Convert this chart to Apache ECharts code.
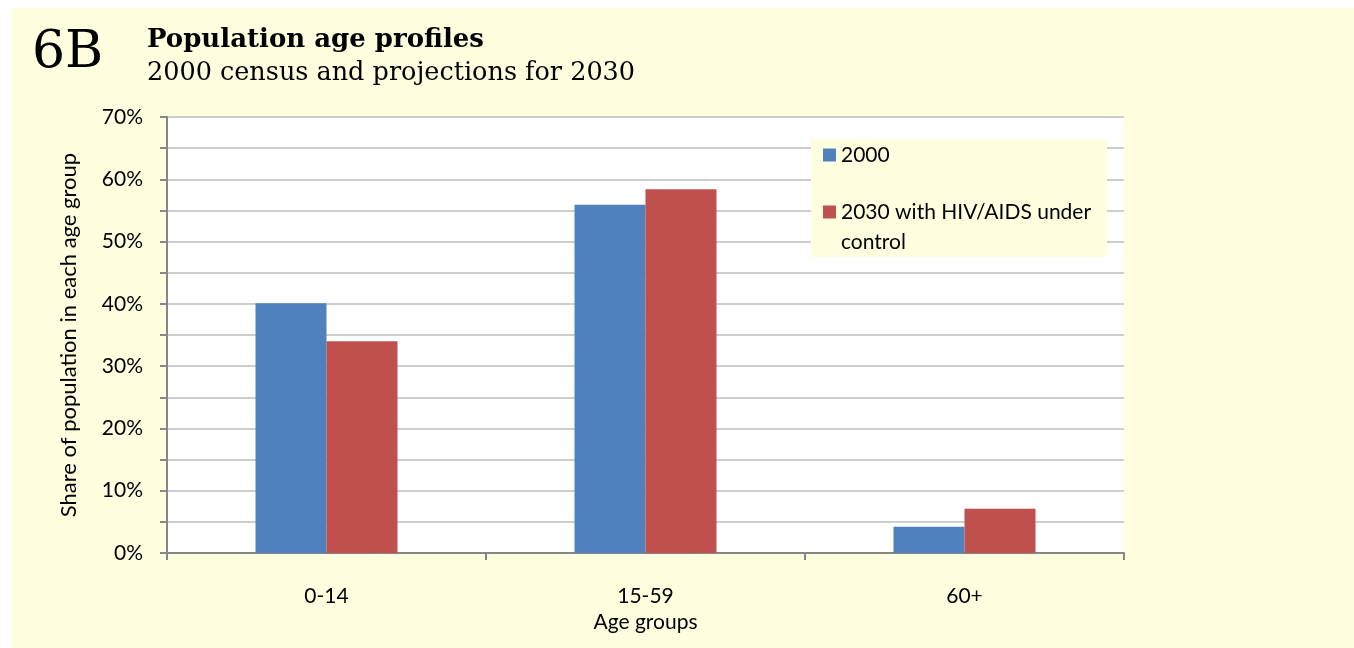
<!DOCTYPE html>
<html>
<head>
<meta charset="utf-8">
<script src="https://cdn.jsdelivr.net/npm/echarts@6/dist/echarts.min.js"></script>
<style>
  html, body { margin: 0; padding: 0; background: #fff; }
  #chart { width: 1354px; height: 648px; }
</style>
</head>
<body>
<div id="chart"></div>
<script>
// Age groups on the x axis
const ageGroups = ['0-14', '15-59', '60+'];
// Share of population in each age group, percent
const share2000 = [40.1, 55.9, 4.2];
const share2030 = [34.0, 58.4, 7.1];
// Series names shown in the legend
const seriesNames = ['2000', '2030 with HIV/AIDS under control'];

const panelColor = '#FFFFDF';
const labelFont = 'Lato, "Open Sans", sans-serif';
const serifFont = '"DejaVu Serif", serif';

const chart = echarts.init(document.getElementById('chart'), null, { renderer: 'canvas' });

chart.setOption({
  backgroundColor: '#ffffff',
  animation: false,
  graphic: [
    {
      type: 'rect',
      left: 11, top: 8, z: -10,
      shape: { width: 1343, height: 640 },
      style: { fill: panelColor }
    }
  ],
  title: [
    {
      text: '6B',
      left: 32, top: 27, padding: 0,
      textStyle: { fontFamily: serifFont, fontWeight: 'normal', fontSize: 52, lineHeight: 52, color: '#000' }
    },
    {
      text: 'Population age profiles',
      left: 147, top: 25, padding: 0,
      textStyle: { fontFamily: serifFont, fontWeight: 'bold', fontSize: 26, lineHeight: 30, color: '#000' }
    },
    {
      text: '2000 census and projections for 2030',
      left: 147, top: 58, padding: 0,
      textStyle: { fontFamily: serifFont, fontWeight: 'normal', fontSize: 25.5, lineHeight: 30, color: '#000' }
    }
  ],
  legend: {
    orient: 'vertical',
    left: 811, top: 139,
    padding: [1, 16, 0, 12],
    itemGap: -3,
    itemWidth: 13, itemHeight: 13,
    icon: 'rect',
    backgroundColor: panelColor,
    z: 6,
    textStyle: { fontFamily: labelFont, fontSize: 21, color: '#000', lineHeight: 30 },
    // the long name wraps after "under"; a leading empty line keeps its
    // first line level with the colour square
    formatter: name => name.indexOf(' under ') > 0
      ? '\n' + name.replace(' under ', ' under\n')
      : name,
    data: seriesNames
  },
  grid: { left: 167, right: 230, top: 117, bottom: 95, show: true, backgroundColor: '#ffffff', borderWidth: 0 },
  xAxis: {
    type: 'category',
    data: ageGroups,
    name: 'Age groups',
    nameLocation: 'middle',
    nameGap: 59,
    nameTextStyle: { fontFamily: labelFont, fontSize: 21, color: '#000' },
    axisLine: { lineStyle: { color: '#868686', width: 2 } },
    axisTick: { show: true, length: 7, lineStyle: { color: '#868686', width: 2 } },
    axisLabel: { margin: 33, fontFamily: labelFont, fontSize: 21, color: '#000' },
    splitLine: { show: false }
  },
  yAxis: {
    type: 'value',
    min: 0, max: 70, interval: 5,
    name: 'Share of population in each age group',
    nameLocation: 'middle',
    nameGap: 87,
    nameRotate: 90,
    nameTextStyle: { fontFamily: labelFont, fontSize: 22, color: '#000' },
    axisLine: { show: true, lineStyle: { color: '#868686', width: 2 } },
    axisTick: { show: true, length: 7, lineStyle: { color: '#868686', width: 2 } },
    axisLabel: {
      margin: 24, fontFamily: labelFont, fontSize: 21, color: '#000',
      formatter: v => (Math.round(v) % 10 === 0 ? Math.round(v) + '%' : '')
    },
    splitLine: { show: true, lineStyle: { color: '#BDBDBD', width: 1.5 } }
  },
  series: [
    {
      name: seriesNames[0], type: 'bar', data: share2000,
      barWidth: 71, barGap: '0%',
      itemStyle: { color: '#4F81BD' }
    },
    {
      name: seriesNames[1], type: 'bar', data: share2030,
      barWidth: 71, barGap: '0%',
      itemStyle: { color: '#C0504D' }
    }
  ]
});
</script>
</body>
</html>
